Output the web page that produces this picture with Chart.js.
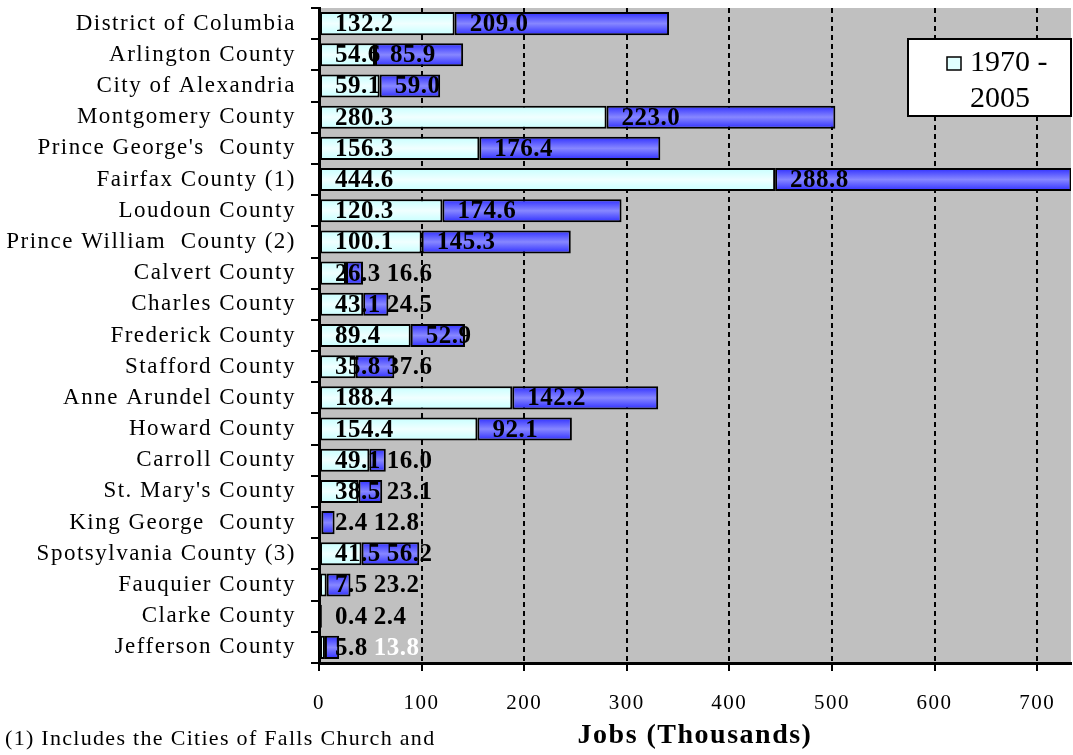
<!DOCTYPE html>
<html>
<head>
<meta charset="utf-8">
<script src="https://cdn.jsdelivr.net/npm/chart.js@4.4.1/dist/chart.umd.min.js"></script>
<style>
    body { margin: 0; background: #fff; }
    #wrap { position: relative; width: 1073px; height: 755px; }
    #footnote {
        position: absolute; left: 5px; top: 727px;
        font: 22px 'Liberation Serif', 'Times New Roman', serif;
        letter-spacing: 1.3px;
        line-height: 1; color: #000; white-space: nowrap;
    }
</style>
</head>
<body>
<div id="wrap">
    <canvas id="jobsChart" width="1073" height="755"></canvas>
    <div id="footnote">(1) Includes the Cities of Falls Church and</div>
</div>
<script>
// Jobs by jurisdiction, thousands
const categories = [
    'District of Columbia', 'Arlington County', 'City of Alexandria', 'Montgomery County',
    "Prince George's  County", 'Fairfax County (1)', 'Loudoun County', 'Prince William  County (2)',
    'Calvert County', 'Charles County', 'Frederick County', 'Stafford County',
    'Anne Arundel County', 'Howard County', 'Carroll County', "St. Mary's County",
    'King George  County', 'Spotsylvania County (3)', 'Fauquier County', 'Clarke County',
    'Jefferson County'
];
const jobs1970 = [132.2, 54.6, 59.1, 280.3, 156.3, 444.6, 120.3, 100.1, 26.3, 43.1, 89.4,
                  35.8, 188.4, 154.4, 49.1, 38.5, 2.4, 41.5, 7.5, 0.4, 5.8];
const jobsChange = [209.0, 85.9, 59.0, 223.0, 176.4, 288.8, 174.6, 145.3, 16.6, 24.5, 52.9,
                    37.6, 142.2, 92.1, 16.0, 23.1, 12.8, 56.2, 23.2, 2.4, 13.8];
const seriesNames = ['1970 - 2005', 'Change 1970 - 2005'];
const xTicks = [0, 100, 200, 300, 400, 500, 600, 700];

const SERIF = "'Liberation Serif', 'Times New Roman', serif";

// vertical gradient across each bar, like the old Excel fill
function barGradient(context, edge, mid) {
    const chart = context.chart;
    const y = chart.scales && chart.scales.y;
    if (context.type !== 'data' || !y) return mid;
    const yc = y.getPixelForValue(context.dataIndex);
    if (!isFinite(yc)) return mid;
    const g = chart.ctx.createLinearGradient(0, yc - 12, 0, yc + 12);
    g.addColorStop(0, edge);
    g.addColorStop(0.5, mid);
    g.addColorStop(1, edge);
    return g;
}

const plotBackground = {
    id: 'plotBackground',
    beforeDraw(chart) {
        const { ctx, chartArea: a } = chart;
        // the original text is set wide; applies to tick labels and axis title
        ctx.letterSpacing = '1.5px';
        ctx.save();
        ctx.fillStyle = '#c0c0c0';
        ctx.fillRect(a.left, a.top, a.right - a.left, a.bottom - a.top);
        ctx.restore();
    }
};

const barLabels = {
    id: 'barLabels',
    afterDatasetsDraw(chart) {
        const ctx = chart.ctx;
        ctx.save();
        ctx.letterSpacing = '0.5px';
        ctx.font = 'bold 25px ' + SERIF;
        ctx.textAlign = 'left';
        ctx.textBaseline = 'middle';
        const first = chart.getDatasetMeta(0).data;
        const second = chart.getDatasetMeta(1).data;
        first.forEach((bar, i) => {
            const t0 = jobs1970[i].toFixed(1);
            const t1 = jobsChange[i].toFixed(1);
            const x0 = bar.base + 15;
            // keep the second label clear of the first one on short bars
            const x1 = Math.max(second[i].base + 15, x0 + ctx.measureText(t0).width + 6);
            ctx.fillStyle = '#000';
            ctx.fillText(t0, x0, bar.y + 1);
            ctx.fillStyle = categories[i] === 'Jefferson County' ? '#fff' : '#000';
            ctx.fillText(t1, x1, second[i].y + 1);
        });
        ctx.restore();
    }
};

const boxLegend = {
    id: 'boxLegend',
    afterDraw(chart) {
        const { ctx, chartArea: a } = chart;
        const right = a.right, top = a.top + 31;
        const left = right - 163, bottom = top + 77;
        ctx.save();
        ctx.letterSpacing = '0px';
        ctx.fillStyle = '#fff';
        ctx.fillRect(left, top, right - left, bottom - top);
        ctx.strokeStyle = '#000';
        ctx.lineWidth = 2;
        ctx.strokeRect(left, top, right - left, bottom - top);
        ctx.fillStyle = '#e0ffff';
        ctx.fillRect(left + 39, top + 18, 14, 13);
        ctx.lineWidth = 1.5;
        ctx.strokeRect(left + 39, top + 18, 14, 13);
        ctx.fillStyle = '#000';
        ctx.font = '30px ' + SERIF;
        ctx.textBaseline = 'middle';
        ctx.fillText('1970 -', left + 62, top + 24);
        ctx.fillText('2005', left + 62, top + 60);
        ctx.restore();
    }
};

new Chart(document.getElementById('jobsChart'), {
    type: 'bar',
    data: {
        labels: categories,
        datasets: [
            {
                label: seriesNames[0],
                data: jobs1970,
                backgroundColor: ctx => barGradient(ctx, '#c4ffff', '#f0ffff'),
                borderColor: '#000',
                borderWidth: 2,
                borderSkipped: false,
                barPercentage: 0.74,
                categoryPercentage: 1
            },
            {
                label: seriesNames[1],
                data: jobsChange,
                backgroundColor: ctx => barGradient(ctx, '#2a2aff', '#8787ff'),
                borderColor: '#000',
                borderWidth: 2,
                borderSkipped: false,
                barPercentage: 0.74,
                categoryPercentage: 1
            }
        ]
    },
    options: {
        responsive: false,
        animation: false,
        indexAxis: 'y',
        layout: { padding: { top: 8, right: 2, bottom: 0, left: 0 } },
        plugins: {
            legend: { display: false },
            tooltip: { enabled: false }
        },
        scales: {
            x: {
                stacked: true,
                min: 0,
                max: 733,
                afterBuildTicks: scale => {
                    scale.ticks = xTicks.map(v => ({ value: v }));
                },
                afterFit: scale => { scale.height = 92; },
                ticks: {
                    color: '#000',
                    font: { family: SERIF, size: 21 },
                    padding: 20,
                    maxRotation: 0
                },
                grid: {
                    color: c => c.index === 0 ? 'rgba(0,0,0,0)' : '#000',
                    lineWidth: 2,
                    tickColor: '#000',
                    tickLength: 8,
                    tickWidth: 2
                },
                border: { display: true, color: '#000', width: 3, dash: [5, 4] },
                title: {
                    display: true,
                    text: 'Jobs (Thousands)',
                    color: '#000',
                    font: { family: SERIF, size: 28, weight: 'bold' },
                    padding: { top: 0, bottom: 2 }
                }
            },
            y: {
                stacked: true,
                afterFit: scale => {
                    scale.width = 319;
                    scale.paddingTop = 0;
                    scale.paddingBottom = 0;
                },
                ticks: {
                    color: '#000',
                    font: { family: SERIF, size: 23 },
                    padding: 15,
                    autoSkip: false
                },
                grid: {
                    drawOnChartArea: false,
                    color: '#000',
                    lineWidth: 2,
                    tickLength: 8
                },
                border: { display: true, color: '#000', width: 3 }
            }
        }
    },
    plugins: [plotBackground, barLabels, boxLegend]
});
</script>
</body>
</html>
